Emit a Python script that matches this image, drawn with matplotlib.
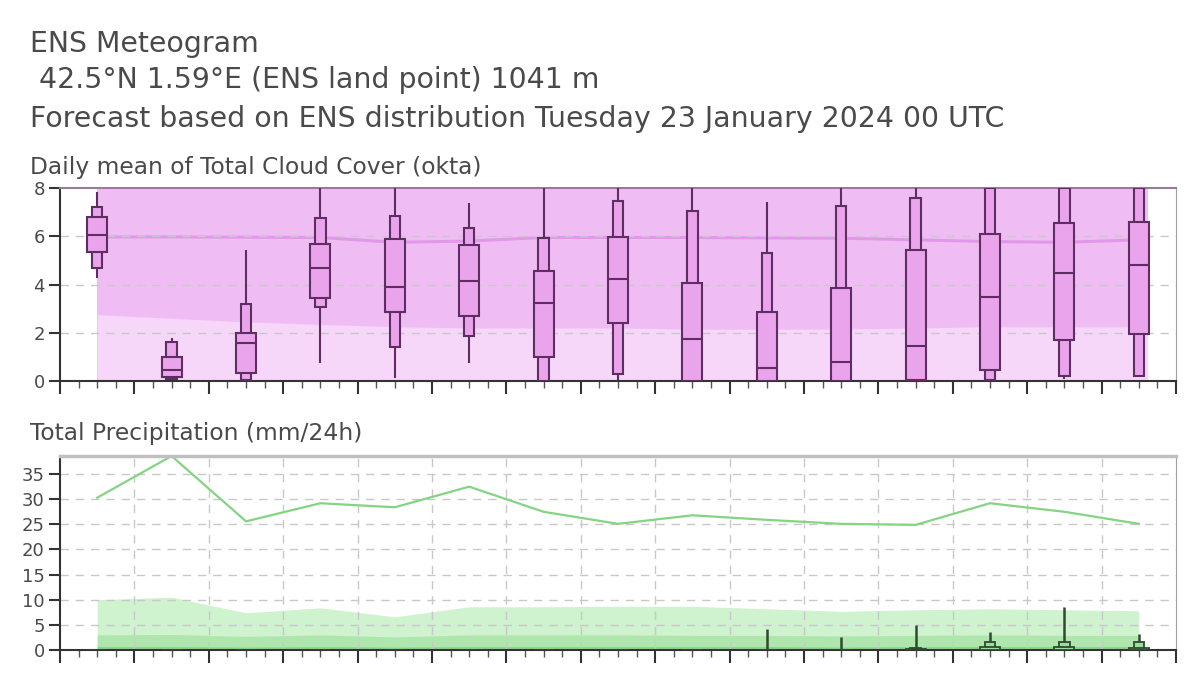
import numpy as np
import matplotlib.pyplot as plt
from matplotlib.ticker import MultipleLocator

# forecast days (box centres at noon)
days = np.arange(15) + 0.5

# Total cloud cover, ENS distribution (okta)
cc_min = [4.27, 0.05, 0.0, 0.73, 0.11, 0.73, 0.0, 0.04, 0.0, 0.0, 0.0, 0.0, 0.0, 0.1, 0.15]
cc_p10 = [4.68, 0.1, 0.05, 3.08, 1.42, 1.88, 0.0, 0.29, 0.0, 0.0, 0.0, 0.0, 0.04, 0.21, 0.21]
cc_p25 = [5.34, 0.15, 0.35, 3.46, 2.85, 2.71, 1.01, 2.39, 0.0, 0.0, 0.0, 0.05, 0.46, 1.7, 1.94]
cc_med = [6.06, 0.45, 1.59, 4.7, 3.91, 4.16, 3.25, 4.23, 1.74, 0.53, 0.8, 1.47, 3.5, 4.49, 4.81]
cc_p75 = [6.78, 0.98, 2.0, 5.67, 5.88, 5.62, 4.58, 5.96, 4.08, 2.85, 3.85, 5.41, 6.1, 6.54, 6.58]
cc_p90 = [7.23, 1.62, 3.2, 6.75, 6.86, 6.36, 5.92, 7.47, 7.05, 5.3, 7.27, 7.58, 8.0, 8.0, 8.0]
cc_max = [7.85, 1.78, 5.43, 8.0, 8.0, 7.37, 8.0, 8.0, 8.0, 7.44, 8.0, 8.0, 8.0, 8.0, 8.0]

# cloud cover climate (lower band top, median)
cc_clim_low = [2.75, 2.6, 2.45, 2.35, 2.25, 2.2, 2.2, 2.2, 2.15, 2.15, 2.15, 2.2, 2.25, 2.25, 2.25]
cc_clim_med = [5.97, 5.97, 5.96, 5.95, 5.75, 5.8, 5.95, 5.95, 5.95, 5.93, 5.92, 5.85, 5.78, 5.75, 5.85]

# Total precipitation, ENS distribution (mm/24h)
tp_max = [0, 0, 0, 0, 0, 0, 0, 0, 0, 4.1, 2.6, 5.0, 3.5, 8.6, 3.1]
tp_p90 = [0, 0, 0, 0, 0, 0, 0, 0, 0, 0, 0, 0.3, 1.5, 1.5, 1.5]
tp_p75 = [0, 0, 0, 0, 0, 0, 0, 0, 0, 0, 0, 0.15, 0.5, 0.5, 0.4]

# precipitation climate
tp_clim_max = [30.3, 38.6, 25.6, 29.2, 28.4, 32.5, 27.5, 25.1, 26.8, 25.9, 25.1, 24.9, 29.2, 27.5, 25.1]
tp_clim_hi = [10.0, 10.5, 7.4, 8.4, 6.6, 8.6, 8.6, 8.7, 8.7, 8.2, 7.7, 8.0, 8.2, 8.0, 7.8]
tp_clim_mid = [3.0, 3.1, 2.7, 3.0, 2.6, 3.0, 3.0, 3.0, 2.9, 2.9, 2.8, 2.9, 3.0, 2.9, 2.9]
tp_clim_low = [0.7, 0.7, 0.6, 0.7, 0.6, 0.7, 0.7, 0.7, 0.7, 0.7, 0.6, 0.7, 0.7, 0.7, 0.7]

W = 1200
H = 675
fig = plt.figure(figsize=(12, 6.75), dpi=100)
txt_col = "#4a4a4a"

def fy(px):
    return 1 - px / H

fig.text(30 / W, fy(52), "ENS Meteogram", fontsize=20.4, color=txt_col)
fig.text(30 / W, fy(88), " 42.5°N 1.59°E (ENS land point) 1041 m", fontsize=20.4, color=txt_col)
fig.text(30 / W, fy(127), "Forecast based on ENS distribution Tuesday 23 January 2024 00 UTC",
         fontsize=20.4, color=txt_col)
fig.text(30 / W, fy(174), "Daily mean of Total Cloud Cover (okta)", fontsize=16.8, color=txt_col)
fig.text(30 / W, fy(440), "Total Precipitation (mm/24h)", fontsize=16.8, color=txt_col)

ax1 = fig.add_axes([60 / W, fy(381), (1176 - 60) / W, (381 - 188) / H])
ax2 = fig.add_axes([60 / W, fy(650), (1176 - 60) / W, (650 - 456) / H])

grid_kw = dict(color="#c8c8c8", linestyle=(0, (6, 5)), linewidth=1)
clim_x = np.append(days, 14.62)

def ext(v):
    return np.append(v, v[-1])

# ---- cloud cover panel ----
ax1.fill_between(clim_x, 0, 8, color="#f0bcf4", lw=0, zorder=1)
ax1.fill_between(clim_x, 0, ext(cc_clim_low), color="#f6d6f9", lw=0, zorder=1.1)
ax1.plot(clim_x, ext(cc_clim_med), color="#e298e8", lw=2.2, zorder=1.2)
for y in [2, 4, 6]:
    ax1.axhline(y, zorder=1.5, **grid_kw)

box_fc = "#e9a4ec"
box_ec = "#5e2e62"
ax1.vlines(days, cc_min, cc_max, color=box_ec, lw=1.5, zorder=3)
ax1.bar(days, np.subtract(cc_p90, cc_p10), bottom=cc_p10, width=0.14,
        color=box_fc, edgecolor=box_ec, lw=1.5, zorder=4)
ax1.bar(days, np.subtract(cc_p75, cc_p25), bottom=cc_p25, width=0.27,
        color=box_fc, edgecolor=box_ec, lw=1.5, zorder=5)
ax1.hlines(cc_med, days - 0.135, days + 0.135, color=box_ec, lw=1.5, zorder=6)
ax1.set_ylim(0, 8)
ax1.set_yticks([0, 2, 4, 6, 8])

# ---- precipitation panel ----
ax2.fill_between(days, 0, tp_clim_hi, color="#cff2cf", lw=0, zorder=1)
ax2.fill_between(days, 0, tp_clim_mid, color="#aee6ae", lw=0, zorder=1.1)
ax2.fill_between(days, 0, tp_clim_low, color="#8cd68c", lw=0, zorder=1.2)
ax2.plot(days, tp_clim_max, color="#84d484", lw=1.6, zorder=2)
for y in range(5, 40, 5):
    ax2.axhline(y, zorder=1.5, **grid_kw)
for x in range(1, 15):
    ax2.axvline(x, zorder=1.5, **grid_kw)

tp_fc = "#9edc9e"
tp_ec = "#2f4a2f"
ax2.vlines(days, 0, tp_max, color=tp_ec, lw=1.8, zorder=3)
ax2.bar(days, tp_p90, width=0.14, color=tp_fc, edgecolor=tp_ec, lw=1.3, zorder=4)
ax2.bar(days, tp_p75, width=0.27, color=tp_fc, edgecolor=tp_ec, lw=1.3, zorder=5)
ax2.set_ylim(0, 38.6)
ax2.set_yticks(range(0, 40, 5))

for ax in (ax1, ax2):
    ax.set_xlim(0, 15)
    ax.xaxis.set_major_locator(MultipleLocator(1))
    ax.xaxis.set_minor_locator(MultipleLocator(0.25))
    ax.set_xticklabels([])
    ax.tick_params(axis="x", which="major", length=9, width=1.5, color="#333333")
    ax.tick_params(axis="x", which="minor", length=5, width=1, color="#555555")
    ax.tick_params(axis="y", length=8, width=1.5, color="#333333",
                   labelsize=13, labelcolor=txt_col, pad=3)
    ax.spines["left"].set_color("#333333")
    ax.spines["bottom"].set_color("#333333")
    ax.spines["left"].set_linewidth(1.5)
    ax.spines["bottom"].set_linewidth(1.5)
    ax.spines["right"].set_color("#a0a0a0")
    ax.set_facecolor("white")

ax1.spines["top"].set_color("#9a7a9a")
ax1.spines["top"].set_linewidth(1.5)
ax2.spines["top"].set_color("#c0c0c0")
ax2.spines["top"].set_linewidth(2.5)

fig.savefig("out.png", dpi=100)
